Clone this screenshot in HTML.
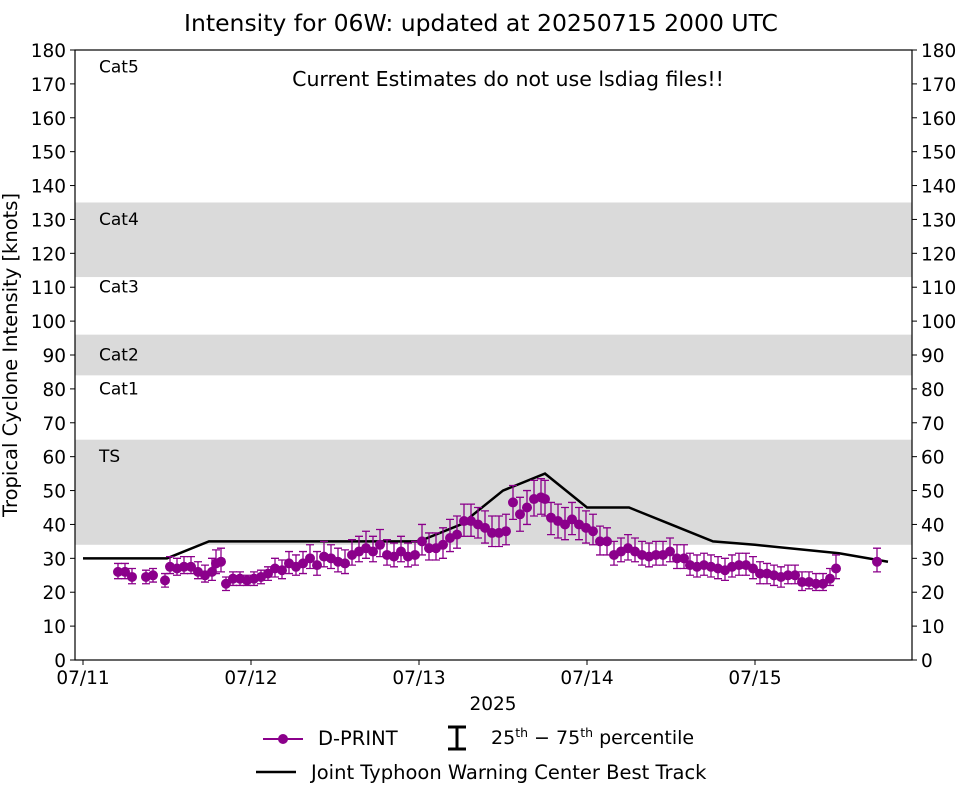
<!DOCTYPE html>
<html><head><meta charset="utf-8"><style>
html,body{margin:0;padding:0;background:#fff}
svg{display:block;font-family:"DejaVu Sans","Liberation Sans",sans-serif}
</style></head><body>
<svg id="chart" width="962" height="785" viewBox="0 0 962 785">
<text x="481" y="31" text-anchor="middle" font-size="23.5" fill="#000">Intensity for 06W: updated at 20250715 2000 UTC</text>
<g id="bands"></g>
<g id="grid"></g>
<g id="marks"></g>
<rect x="75" y="50" width="837" height="610" fill="none" stroke="#000" stroke-width="1.2"/>
<text x="508" y="86" text-anchor="middle" font-size="20.5">Current Estimates do not use lsdiag files!!</text>
<text x="17" y="355" text-anchor="middle" font-size="19.5" transform="rotate(-90 17 355)">Tropical Cyclone Intensity [knots]</text>
<text x="493" y="710" text-anchor="middle" font-size="18.5">2025</text>
<g>
<line x1="263" y1="739" x2="303" y2="739" stroke="#8b008b" stroke-width="2"/>
<circle cx="283" cy="739" r="5" fill="#8b008b"/>
<text x="318" y="745" font-size="19.5">D-PRINT</text>
<path d="M448 727h18M457 727v22M448 749h18" stroke="#000" stroke-width="3" fill="none"/>
<text x="491" y="744" font-size="19">25<tspan font-size="12.5" dy="-7">th</tspan><tspan dy="7"> − 75</tspan><tspan font-size="12.5" dy="-7">th</tspan><tspan dy="7"> percentile</tspan></text>
<line x1="256" y1="772" x2="296" y2="772" stroke="#000" stroke-width="2.5"/>
<text x="311" y="779" font-size="19.5">Joint Typhoon Warning Center Best Track</text>
</g>
</svg>
<script>
const yTicks=[0,10,20,30,40,50,60,70,80,90,100,110,120,130,140,150,160,170,180];
const xTickHours=[0,24,48,72,96];
const xTickLabels=["07/11","07/12","07/13","07/14","07/15"];
const bandRanges=[[34,65],[84,96],[113,135]];
const catLabels=["Cat5","Cat4","Cat3","Cat2","Cat1","TS"];
const catLabelVals=[174,129,109,89,79,59];
const btHours=[0,12,18,24,36,48,54,60,66,72,78,84,90,96,108,115];
const btVals=[30,30,35,35,35,35,40,50,55,45,45,40,35,34,31.5,29];
const dpX=[118,125,132,146,153,165,170,177,184,191,198,205,212,216,221,226,233,240,247,254,261,268,275,282,289,296,303,310,317,324,331,338,345,352,359,366,373,380,387,394,401,408,415,422,429,436,443,450,457,464,471,478,485,492,499,506,513,520,527,534,541,545,551,558,565,572,579,586,593,600,607,614,621,628,635,642,649,656,663,670,677,684,690,697,704,711,718,725,732,739,746,753,760,767,774,781,788,795,802,809,816,823,830,836,877];
const dpHours=dpX.map(x=>(x-83)/7);
const dpVals=[26,26,24.5,24.5,25,23.5,27.5,27,27.5,27.5,26,25,26,28.5,29,22.5,24,24,23.5,24,24.5,25.5,27,26.5,28.5,27.5,28.5,30,28,30.5,30,29,28.5,31,32,33,32,34,31,30.5,32,30.5,31,35,33,33,34,36,37,41,41,40,39,37.5,37.5,38,46.5,43,45,47.5,48,47.5,42,41,40,41.5,40,39,38,35,35,31,32,33,32,31,30.5,31,31,32,30,30,28,27.5,28,27.5,27,26.5,27.5,28,28,27,25.5,25.5,25,24.5,25,25,23,23,22.5,22.5,24,27,29];
const dpErrLo=[2,2,2,2,2,2,2,2,2,2,2,2,2.5,3,3,2,2,2,1.5,2,2,2,2.5,2.5,3,2.5,3,3,3,3,3,3,3,3,3,3,3,3.5,3,3,3,3,3,4,3.5,3.5,4,4,4,4.5,4.5,4,4.5,4,4,4,5,5,5,5,5,5,5,5,4.5,4.5,4.5,4.5,4,4,4,3,3,3.5,3,3,3,3,3,3,3,3,3,3,3,3,3,3,3,3,3,3,3,3,3,3,2.5,2.5,2.5,2,2,2,2,3,3];
const dpErrHi=[2.5,2.5,2.5,2,2,2,3,3,3,3,3,3,4,4,4,2,2,2,1.5,2,2,2,3,3,3.5,3.5,3.5,4,4,4.5,4,4,4,4.5,4.5,5,4.5,4.5,4.5,4,4.5,4,4,5,4.5,4.5,5,5.5,5.5,5,5,5,5,5,5,5,5,5,5,5.5,5.5,5.5,4.5,5,5,5,5,5,5,4.5,4,4,4,4,4,4,4,4,4,4,4,4,3.5,3.5,3.5,3.5,3.5,3.5,3.5,3.5,3.5,3.5,3.5,3,3,3,3,3,3,3,3,3,3,4,4];
const NS="http://www.w3.org/2000/svg";
const L=75,R=912,T=50,B=660;
function xs(h){return 83+h*7;}
function ys(v){return B-(v/180)*(B-T);}
function mk(t,a,p){const e=document.createElementNS(NS,t);for(const k in a)e.setAttribute(k,a[k]);p.appendChild(e);return e;}
const bands=document.getElementById('bands'),grid=document.getElementById('grid'),marks=document.getElementById('marks');
bandRanges.forEach(b=>{const r=mk('rect',{x:L,y:ys(b[1]),width:R-L,height:ys(b[0])-ys(b[1]),fill:'#dadada'},bands);

});
catLabels.forEach((c,i)=>{const t=mk('text',{x:99,y:ys(catLabelVals[i])+2,'font-size':17},bands);t.textContent=c;

});
yTicks.forEach(v=>{const y=ys(v);
mk('line',{x1:L-5,y1:y,x2:L,y2:y,stroke:'#000'},grid);mk('line',{x1:R,y1:y,x2:R+5,y2:y,stroke:'#000'},grid);
const a=mk('text',{x:L-9,y:y+7,'font-size':18.5,'text-anchor':'end'},grid);a.textContent=v;


const b=mk('text',{x:R+9,y:y+7,'font-size':18.5},grid);b.textContent=v;

});
xTickHours.forEach((h,i)=>{const x=xs(h);mk('line',{x1:x,y1:B,x2:x,y2:B+5,stroke:'#000'},grid);
const t=mk('text',{x:x,y:B+24,'font-size':18.5,'text-anchor':'middle'},grid);t.textContent=xTickLabels[i];

});
const bt=mk('polyline',{points:btHours.map((h,i)=>xs(h)+','+ys(btVals[i])).join(' '),fill:'none',stroke:'#000','stroke-width':2.5},marks);


dpHours.forEach((h,i)=>{const x=xs(h),lo=ys(dpVals[i]-dpErrLo[i]),hi=ys(dpVals[i]+dpErrHi[i]);
const g=mk('g',{},marks);


mk('path',{d:`M${x} ${lo}V${hi}M${x-4} ${lo}h8M${x-4} ${hi}h8`,stroke:'#8b008b','stroke-width':1.3,fill:'none'},g);
mk('circle',{cx:x,cy:ys(dpVals[i]),r:5,fill:'#8b008b'},g);});
</script>
</body></html>
